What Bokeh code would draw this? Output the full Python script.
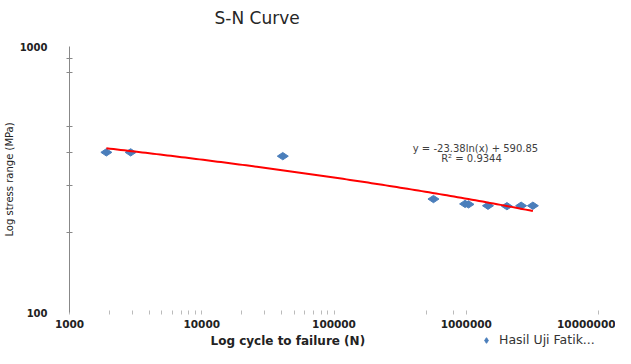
import numpy as np
from bokeh.plotting import figure
from bokeh.layouts import column
from bokeh.models import (Label, Legend, LegendItem, FixedTicker,
                          CustomJSTickFormatter, Range1d)
from bokeh.embed import file_html
from bokeh.resources import INLINE

# ---- data ----
cycles = [1900, 2900, 41000, 565000, 980000, 1040000, 1460000, 2030000, 2600000, 3190000]
stress = [400, 400, 387, 267, 256, 255, 252, 251, 252, 252]

# logarithmic trendline shown on the chart: y = a ln(x) + b
trend_a = -23.38
trend_b = 590.85
trend_text = ["y = -23.38ln(x) + 590.85", "R\u00b2 = 0.9344"]

x_major = [1000, 10000, 100000, 1000000, 10000000]
x_minor = [2000, 3000, 4000, 5000, 6000, 7000, 8000, 9000,
           20000, 30000, 40000, 50000, 60000, 70000, 80000, 90000,
           500000, 800000]
y_major = [100, 1000]
y_minor = [200, 300, 400, 500, 800, 900]

title_text = "S-N Curve"
x_title = "Log cycle to failure (N)"
y_title = "Log stress range (MPa)"
series_name = "Hasil Uji Fatik..."

FONT = "DejaVu Sans"
MARK = "#4a7ebb"


def strip(height):
    s = figure(width=615, height=height, x_range=Range1d(0, 1), y_range=Range1d(0, 1),
               output_backend="svg", toolbar_location=None,
               x_axis_location=None, y_axis_location=None,
               min_border_left=0, min_border_right=0,
               min_border_top=0, min_border_bottom=0)
    s.outline_line_color = None
    s.xgrid.visible = False
    s.ygrid.visible = False
    s.background_fill_color = "white"
    s.border_fill_color = "white"
    return s


# ---- header row: chart title ----
h = strip(30)
h.add_layout(Label(x=145, y=13, x_units="screen", y_units="screen", text=title_text,
                   text_font=FONT, text_font_size="17px", text_color="#262626",
                   text_align="left", text_baseline="middle"))

# ---- main chart ----
p = figure(width=615, height=302, x_axis_type="log", y_axis_type="log",
           x_range=Range1d(1000, 10000000), y_range=Range1d(100, 1000),
           output_backend="svg", toolbar_location=None,
           min_border_left=67, min_border_right=17,
           min_border_top=16, min_border_bottom=20)
p.outline_line_color = None
p.xgrid.visible = False
p.ygrid.visible = False
p.background_fill_color = "white"
p.border_fill_color = "white"

# x axis
xa = p.xaxis[0]
xa.ticker = FixedTicker(ticks=x_major, minor_ticks=x_minor)
xa.formatter = CustomJSTickFormatter(code="return tick.toFixed(0)")
xa.axis_line_color = None
xa.major_tick_line_color = "#bbbbbb"
xa.major_tick_in = 2
xa.major_tick_out = 2
xa.minor_tick_line_color = "#bbbbbb"
xa.minor_tick_in = 2
xa.minor_tick_out = 2
xa.major_label_standoff = 5
xa.major_label_text_font = FONT
xa.major_label_text_font_style = "bold"
xa.major_label_text_font_size = "10.5px"
xa.major_label_text_color = "#222222"

# y axis
ya = p.yaxis[0]
ya.ticker = FixedTicker(ticks=y_major, minor_ticks=y_minor)
ya.formatter = CustomJSTickFormatter(code="return tick.toFixed(0)")
ya.axis_line_color = "#888888"
ya.major_tick_line_color = None
ya.major_tick_in = 0
ya.major_tick_out = 0
ya.minor_tick_line_color = "#888888"
ya.minor_tick_in = 3
ya.minor_tick_out = 3
ya.major_label_standoff = 19
ya.major_label_text_font = FONT
ya.major_label_text_font_style = "bold"
ya.major_label_text_font_size = "10px"
ya.major_label_text_color = "#222222"
ya.axis_label = y_title
ya.axis_label_standoff = 2
ya.axis_label_text_font = FONT
ya.axis_label_text_font_size = "10px"
ya.axis_label_text_font_style = "normal"
ya.axis_label_text_color = "#222222"

# data points
pts = p.scatter(cycles, stress, marker="diamond", size=11, angle=np.pi / 2,
                fill_color=MARK, line_color=MARK)

# trendline
tx = np.geomspace(min(cycles), max(cycles), 120)
ty = trend_a * np.log(tx) + trend_b
p.line(tx, ty, line_color="#ff0000", line_width=2)

# trendline equation
p.add_layout(Label(x=406, y=164, x_units="screen", y_units="screen", text=trend_text[0],
                   text_font=FONT, text_font_size="10px", text_color="#404040",
                   text_align="center", text_baseline="middle"))
p.add_layout(Label(x=402, y=154, x_units="screen", y_units="screen", text=trend_text[1],
                   text_font=FONT, text_font_size="10px", text_color="#404040",
                   text_align="center", text_baseline="middle"))

# ---- footer row: x-axis title and legend ----
f = strip(16)
# same series (outside this strip's ranges) provides the legend key
key = f.scatter(cycles, stress, marker="diamond", size=9, angle=np.pi / 2,
                fill_color=MARK, line_color=MARK)
f.add_layout(Label(x=141, y=8, x_units="screen", y_units="screen", text=x_title,
                   text_font=FONT, text_font_size="12px", text_font_style="bold",
                   text_color="#222222", text_align="left", text_baseline="middle"))
legend = Legend(items=[LegendItem(label=series_name, renderers=[key])],
                location=(410, 1), margin=0, padding=0,
                border_line_color=None, background_fill_alpha=0,
                glyph_width=14, glyph_height=14, label_standoff=6,
                label_text_font=FONT, label_text_font_size="12.5px",
                label_text_color="#333333")
f.add_layout(legend)

page = column(h, p, f, spacing=0)
open("out.html", "w").write(file_html(page, INLINE))
